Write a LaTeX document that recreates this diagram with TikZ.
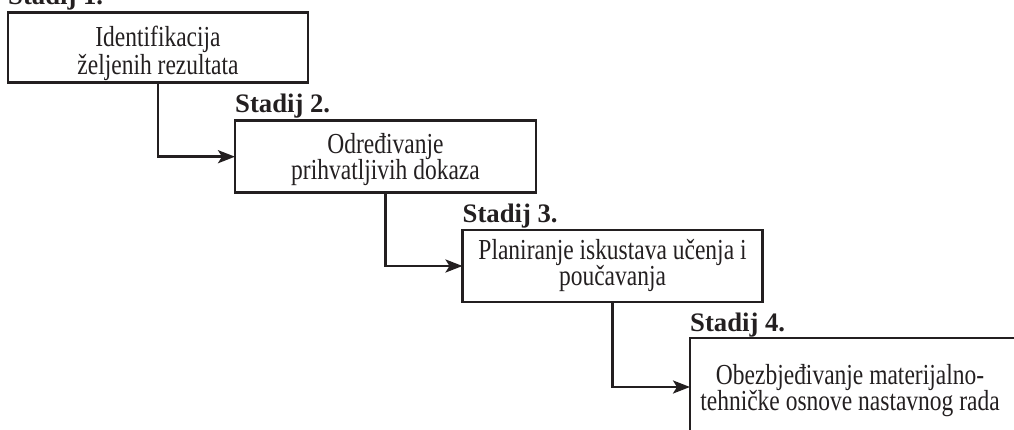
\documentclass[tikz,border=0pt]{standalone}
\usepackage{fontspec}
\setmainfont{Liberation Serif}
\newfontfamily\stagefont[FakeStretch=0.81]{Liberation Serif}
\usetikzlibrary{arrows.meta,calc}

\definecolor{ink}{HTML}{231F20}

\tikzset{
  stagebox/.style={draw=ink, line width=2.8pt, outer sep=0pt, inner sep=0pt},
  boxline/.style={anchor=base, inner sep=0pt, text=ink,
    font=\stagefont\fontsize{29}{30}\selectfont},
  stagelabel/.style={anchor=base west, inner sep=0pt, text=ink,
    font=\fontsize{26.7}{30}\selectfont\bfseries},
  flow/.style={draw=ink, line width=2.6pt,
    -{Stealth[length=17pt, width=13pt, inset=4pt]}}
}

\begin{document}
\begin{tikzpicture}[x=1pt, y=-1pt]
  \useasboundingbox (0,0) rectangle (1014,430);
  \clip (0,0) rectangle (1014,430);

  % the four stages, stepping down to the right
  \node[stagebox, minimum width=300pt, minimum height=70pt] (b1) at (158,47.7) {};
  \node[stagebox, minimum width=301pt, minimum height=72pt] (b2) at (385.5,156.7) {};
  \node[stagebox, minimum width=300pt, minimum height=72pt] (b3) at (612.5,266) {};
  \node[stagebox, minimum width=326pt, minimum height=98pt] (b4) at (853,387) {};

  % two lines of text in each box, set on their baselines
  \node[boxline] (b1a) at ($(b1.north)+(0,34)$)   {Identifikacija};
  \node[boxline] (b1b) at ($(b1.north)+(0,62.3)$) {željenih rezultata};
  \node[boxline] (b2a) at ($(b2.north)+(0,32.6)$) {Određivanje};
  \node[boxline] (b2b) at ($(b2.north)+(0,59.3)$) {prihvatljivih dokaza};
  \node[boxline] (b3a) at ($(b3.north)+(0,30)$)   {Planiranje iskustava učenja i};
  \node[boxline] (b3b) at ($(b3.north)+(0,56)$)   {poučavanja};
  \node[boxline] (b4a) at ($(b4.north)+(-3,46.7)$) {Obezbjeđivanje materijalno-};
  \node[boxline] (b4b) at ($(b4.north)+(-3,72.4)$) {tehničke osnove nastavnog rada};

  % stage titles above each box
  \node[stagelabel] (s1) at ($(b1.north west)+(0,-8)$)   {Stadij 1.};
  \node[stagelabel] (s2) at ($(b2.north west)+(0,-8.5)$) {Stadij 2.};
  \node[stagelabel] (s3) at ($(b3.north west)+(0,-7)$)   {Stadij 3.};
  \node[stagelabel] (s4) at ($(b4.north west)+(0,-6.6)$) {Stadij 4.};

  % elbow connectors
  \draw[flow] (b1.south) |- (b2.west);
  \draw[flow] (b2.south) |- (b3.west);
  \draw[flow] (b3.south) |- (b4.west);
\end{tikzpicture}
\end{document}
